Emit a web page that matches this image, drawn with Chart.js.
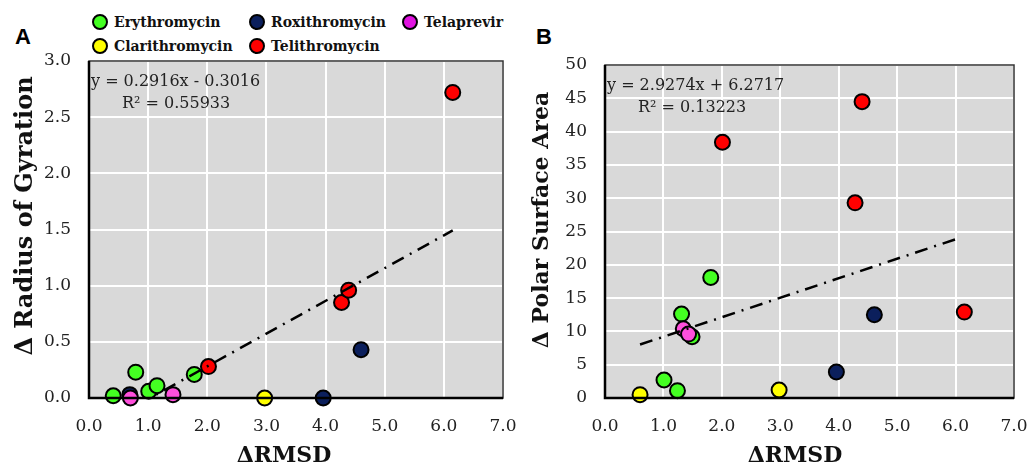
<!DOCTYPE html>
<html>
<head>
<meta charset="utf-8">
<script src="https://cdn.jsdelivr.net/npm/chart.js@4.4.1/dist/chart.umd.min.js"></script>
<style>
  body { margin: 0; background: #fff; width: 1029px; height: 468px; overflow: hidden; position: relative; }
  .panel { position: absolute; top: 0; }
  .tag { position: absolute; font: bold 22px "Liberation Sans", Arial, sans-serif; color: #000; }
  .leg { position: absolute; font: bold 14px "DejaVu Serif", serif; color: #111; white-space: nowrap; }
  .leg i { position: absolute; left: -22px; top: 0px; width: 16px; height: 16px; border: 2px solid #000; border-radius: 50%; box-sizing: border-box; }
</style>
</head>
<body>
<div class="tag" style="left:15px;top:24px">A</div>
<div class="tag" style="left:536px;top:24px">B</div>
<div class="leg" style="left:114px;top:14px"><i style="background:#44ff22"></i>Erythromycin</div>
<div class="leg" style="left:271px;top:14px"><i style="background:#0b1f5c"></i>Roxithromycin</div>
<div class="leg" style="left:424px;top:14px"><i style="background:#e014e0"></i>Telaprevir</div>
<div class="leg" style="left:114px;top:38px"><i style="background:#ffff00"></i>Clarithromycin</div>
<div class="leg" style="left:271px;top:38px"><i style="background:#ff0000"></i>Telithromycin</div>
<div class="panel" style="left:0;width:520px;height:468px"><canvas id="chartA"></canvas></div>
<div class="panel" style="left:520px;width:509px;height:468px"><canvas id="chartB"></canvas></div>
<script>
// panel A : delta RMSD vs delta radius of gyration
const eryA_x = [0.41, 0.79, 1.01, 1.15, 1.78];
const eryA_y = [0.02, 0.23, 0.06, 0.11, 0.21];
const roxA_x = [0.69, 3.96, 4.60];
const roxA_y = [0.03, 0.00, 0.43];
const telaA_x = [0.70, 1.42];
const telaA_y = [0.00, 0.03];
const claA_x = [2.97];
const claA_y = [0.00];
const teliA_x = [2.02, 4.27, 4.39, 6.15];
const teliA_y = [0.28, 0.85, 0.96, 2.72];
const fitA = { slope: 0.2916, icpt: -0.3016, x0: 0.41, x1: 6.15 };
const eqA = ["y = 0.2916x - 0.3016", "R\u00b2 = 0.55933"];

// panel B : delta RMSD vs delta polar surface area
const eryB_x = [1.01, 1.24, 1.31, 1.49, 1.81];
const eryB_y = [2.7, 1.1, 12.6, 9.2, 18.1];
const roxB_x = [3.96, 4.61];
const roxB_y = [3.9, 12.5];
const telaB_x = [1.34, 1.43];
const telaB_y = [10.4, 9.6];
const claB_x = [0.60, 2.98];
const claB_y = [0.5, 1.2];
const teliB_x = [2.01, 4.28, 4.40, 6.15];
const teliB_y = [38.4, 29.3, 44.5, 12.9];
const fitB = { slope: 2.9274, icpt: 6.2717, x0: 0.60, x1: 6.05 };
const eqB = ["y = 2.9274x + 6.2717", "R\u00b2 = 0.13223"];

const xTicks = [0, 1, 2, 3, 4, 5, 6, 7];
const xTitle = "\u0394RMSD";

const colors = {
  ery: "#44ff22",
  rox: "#0b1f5c",
  tela: "#ff4fdc",
  cla: "#ffff00",
  teli: "#ff0000"
};

const serif = "'DejaVu Serif', 'Liberation Serif', serif";

function pts(xs, ys) {
  return xs.map((x, i) => ({ x: x, y: ys[i] }));
}

function scatterSet(label, xs, ys, color, order) {
  return {
    type: "scatter",
    label: label,
    data: pts(xs, ys),
    backgroundColor: color,
    borderColor: "#000",
    borderWidth: 2,
    pointRadius: 7.5,
    pointHoverRadius: 7.5,
    clip: false,
    order: order
  };
}

function fitSet(fit) {
  return {
    type: "line",
    label: "fit",
    data: [
      { x: fit.x0, y: fit.slope * fit.x0 + fit.icpt },
      { x: fit.x1, y: fit.slope * fit.x1 + fit.icpt }
    ],
    borderColor: "#000",
    borderWidth: 2.5,
    borderDash: [13, 7, 2, 7],
    pointRadius: 0,
    fill: false,
    order: 0
  };
}

// grey plot background, frame, axis titles and the regression text
const plotDeco = {
  id: "plotDeco",
  beforeDraw(chart) {
    const a = chart.chartArea, c = chart.ctx;
    c.save();
    c.fillStyle = "#d9d9d9";
    c.fillRect(a.left, a.top, a.right - a.left, a.bottom - a.top);
    c.restore();
  },
  afterDraw(chart) {
    const a = chart.chartArea, c = chart.ctx;
    const o = chart.options.plugins.plotDeco;
    c.save();
    c.strokeStyle = "#333";
    c.lineWidth = 1.5;
    c.strokeRect(a.left, a.top, a.right - a.left, a.bottom - a.top);
    c.strokeStyle = "#000";
    c.lineWidth = 2.5;
    c.beginPath();
    c.moveTo(a.left, a.top);
    c.lineTo(a.left, a.bottom);
    c.lineTo(a.right, a.bottom);
    c.stroke();
    c.fillStyle = "#222";
    c.font = "16px " + serif;
    c.textBaseline = "middle";
    c.fillText(o.eq[0], a.left + 2, a.top + 21);
    c.fillText(o.eq[1], a.left + 33, a.top + 43);
    // x axis title
    c.fillStyle = "#111";
    c.textAlign = "center";
    c.font = "bold 22px " + serif;
    c.fillText(xTitle, o.xTitleX, o.xTitleY);
    // rotated y axis title
    c.font = "bold " + o.yTitleSize + "px " + serif;
    c.translate(o.yTitleX, o.yTitleY);
    c.rotate(-Math.PI / 2);
    c.fillText(o.yTitle, 0, 0);
    c.restore();
  }
};

function makeChart(id, sets, fit, eq, yMax, yStep, yDec, pad, yWidth, deco) {
  new Chart(document.getElementById(id), {
    data: {
      datasets: [
        fitSet(fit),
        scatterSet("Erythromycin", sets.ery[0], sets.ery[1], colors.ery, 5),
        scatterSet("Roxithromycin", sets.rox[0], sets.rox[1], colors.rox, 4),
        scatterSet("Telaprevir", sets.tela[0], sets.tela[1], colors.tela, 3),
        scatterSet("Clarithromycin", sets.cla[0], sets.cla[1], colors.cla, 2),
        scatterSet("Telithromycin", sets.teli[0], sets.teli[1], colors.teli, 1)
      ]
    },
    options: {
      responsive: true,
      maintainAspectRatio: false,
      animation: false,
      layout: { padding: pad },
      plugins: {
        legend: { display: false },
        tooltip: { enabled: false },
        plotDeco: Object.assign({ eq: eq }, deco)
      },
      scales: {
        x: {
          type: "linear",
          min: 0,
          max: 7,
          afterBuildTicks: (s) => { s.ticks = xTicks.map(v => ({ value: v })); },
          ticks: {
            padding: 18,
            color: "#222",
            font: { family: serif, size: 17 },
            callback: (v) => v.toFixed(1)
          },
          grid: { color: "#ffffff", lineWidth: 2, drawTicks: false },
          border: { display: false },
          afterFit: (s) => {
            s.height = 70;
            s.paddingLeft = 0;
            s.paddingRight = 0;
          }
        },
        y: {
          type: "linear",
          min: 0,
          max: yMax,
          ticks: {
            stepSize: yStep,
            padding: 18,
            color: "#222",
            font: { family: serif, size: 17 },
            callback: (v) => v.toFixed(yDec)
          },
          grid: { color: "#ffffff", lineWidth: 2, drawTicks: false },
          border: { display: false },
          afterFit: (s) => {
            s.width = yWidth;
            s.paddingTop = 0;
            s.paddingBottom = 0;
          }
        }
      }
    },
    plugins: [plotDeco]
  });
}

makeChart("chartA",
  { ery: [eryA_x, eryA_y], rox: [roxA_x, roxA_y], tela: [telaA_x, telaA_y], cla: [claA_x, claA_y], teli: [teliA_x, teliA_y] },
  fitA, eqA, 3, 0.5, 1,
  { top: 61, right: 17, left: 0, bottom: 0 }, 89,
  { yTitle: "\u0394 Radius of Gyration", yTitleSize: 24, yTitleX: 26, yTitleY: 216, xTitleX: 284, xTitleY: 456 });

makeChart("chartB",
  { ery: [eryB_x, eryB_y], rox: [roxB_x, roxB_y], tela: [telaB_x, telaB_y], cla: [claB_x, claB_y], teli: [teliB_x, teliB_y] },
  fitB, eqB, 50, 5, 0,
  { top: 65, right: 15, left: 0, bottom: 0 }, 85,
  { yTitle: "\u0394 Polar Surface Area", yTitleSize: 22, yTitleX: 22, yTitleY: 220, xTitleX: 275, xTitleY: 456 });
</script>
</body>
</html>
